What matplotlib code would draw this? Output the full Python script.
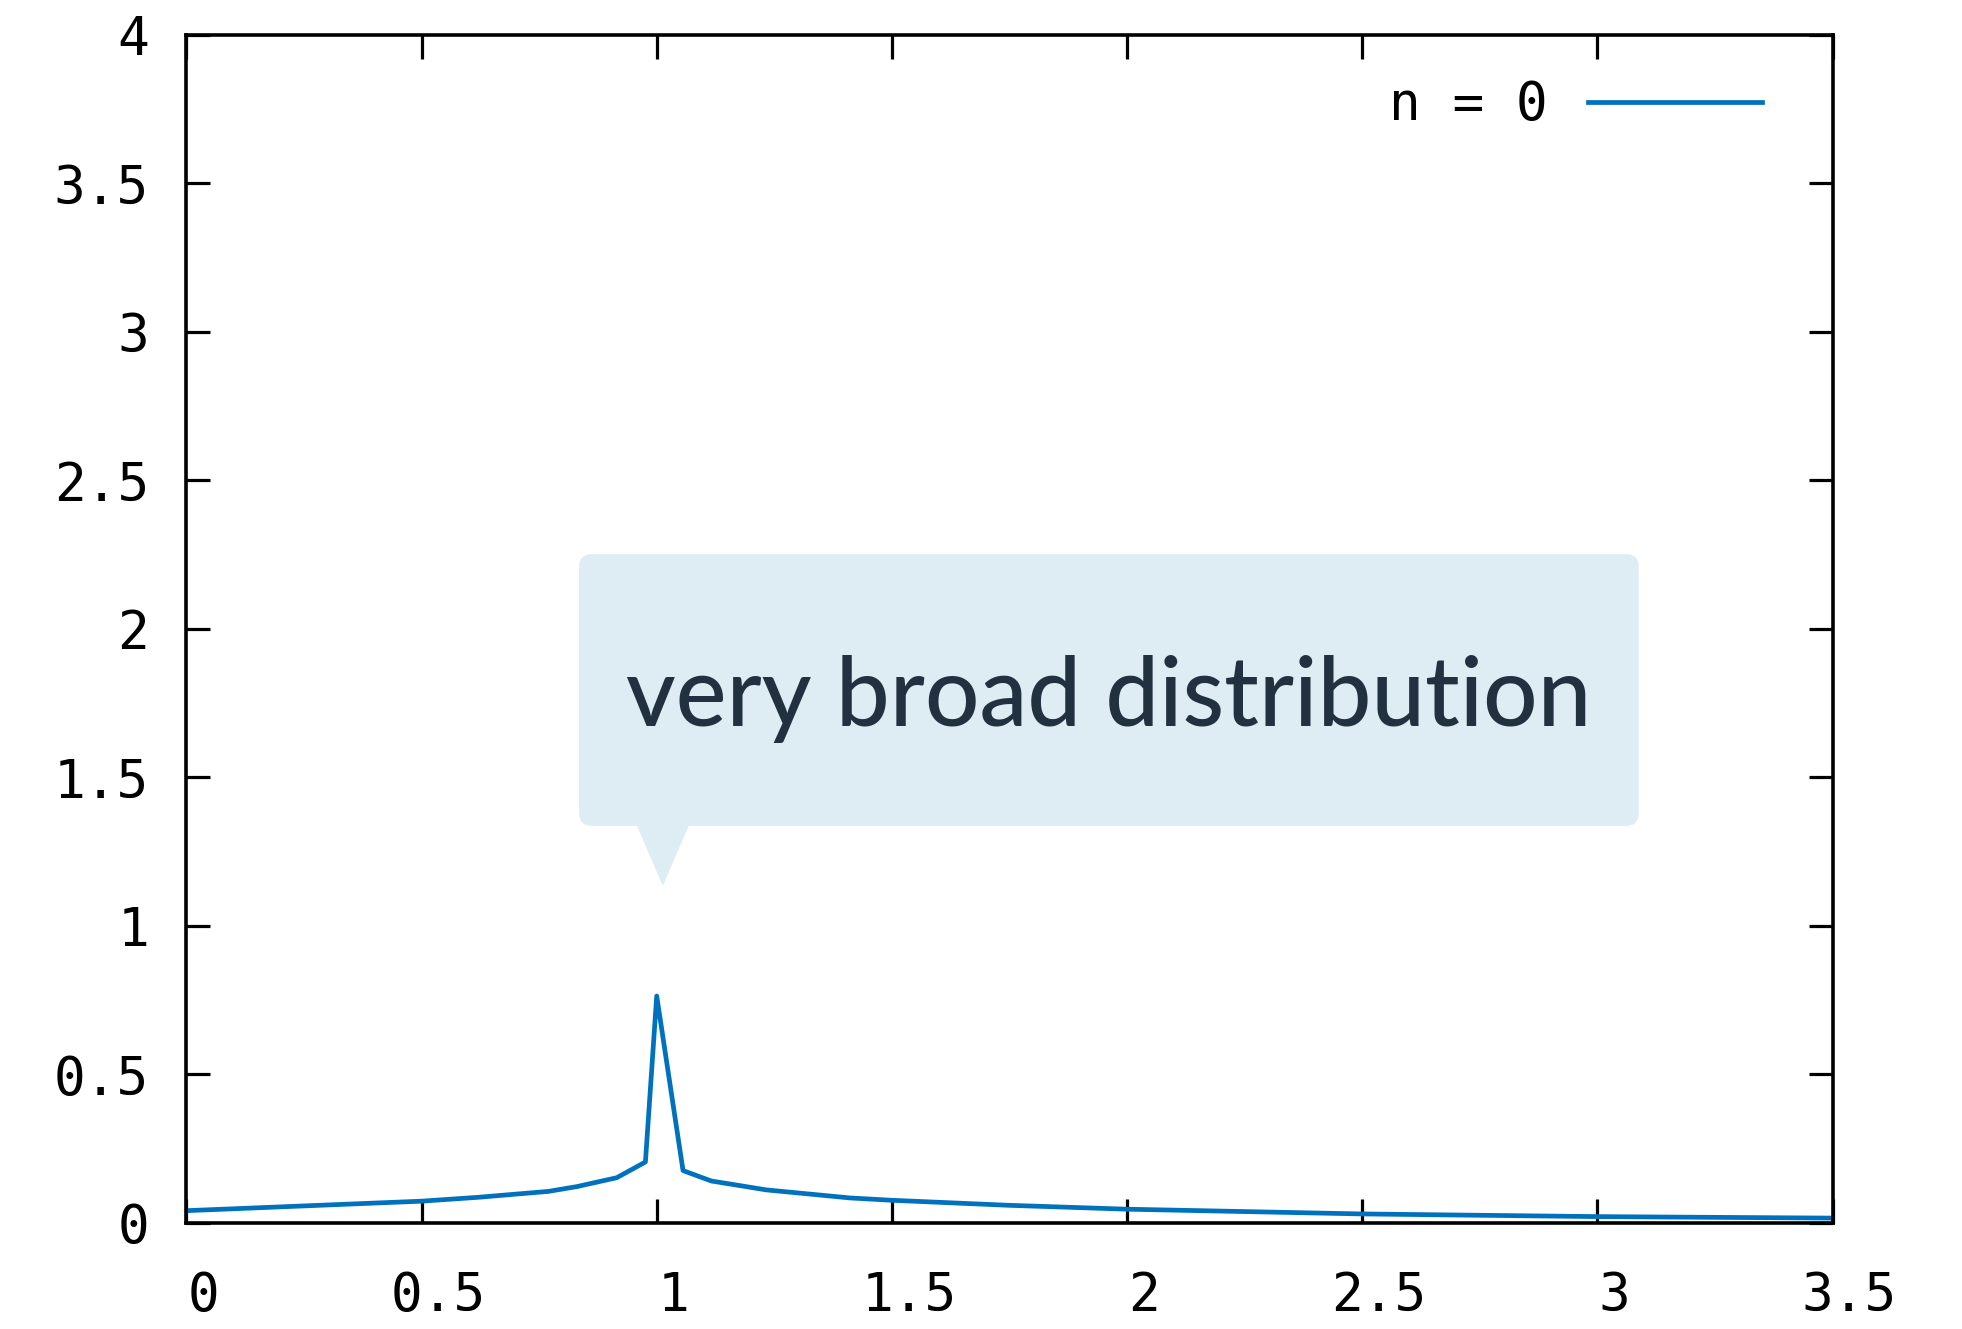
import matplotlib
matplotlib.use("Agg")
import matplotlib.pyplot as plt
import matplotlib.transforms as mtransforms
from matplotlib.patches import FancyBboxPatch, Polygon
from matplotlib.ticker import FormatStrFormatter

# values
freq = [0.0, 0.5, 0.62, 0.77, 0.83, 0.915, 0.945, 0.976, 1.0, 1.056,
        1.116, 1.233, 1.41, 1.5, 1.75, 2.0, 2.5, 3.0, 3.5]
density = [0.040, 0.072, 0.085, 0.105, 0.121, 0.151, 0.177, 0.204, 0.763, 0.175,
           0.140, 0.110, 0.083, 0.075, 0.058, 0.045, 0.029, 0.020, 0.015]
series_label = "n = 0"
callout_text = "very broad distribution"

x_ticks = [0, 0.5, 1, 1.5, 2, 2.5, 3, 3.5]
y_ticks = [0, 0.5, 1, 1.5, 2, 2.5, 3, 3.5, 4]

LINE_COLOR = "#0072bd"
BOX_COLOR = "#deedf4"
TEXT_COLOR = "#22313f"
MONO = "DejaVu Sans Mono"

fig = plt.figure(figsize=(19.62, 13.29), dpi=100)
ax = fig.add_axes([0.095, 0.0801, 0.839, 0.8936])

ax.plot(freq, density, color=LINE_COLOR, lw=3.4, label=series_label)

ax.set_xlim(0, 3.5)
ax.set_ylim(0, 4)
ax.set_xticks(x_ticks)
ax.set_yticks(y_ticks)
ax.xaxis.set_major_formatter(FormatStrFormatter("%g"))
ax.yaxis.set_major_formatter(FormatStrFormatter("%g"))

for s in ax.spines.values():
    s.set_linewidth(2.6)
ax.tick_params(direction="in", length=17, width=2.3, top=True, right=True,
               labelsize=38)
ax.tick_params(axis="x", pad=34)
ax.tick_params(axis="y", pad=27)
for lab in ax.get_xticklabels() + ax.get_yticklabels():
    lab.set_family(MONO)
# gnuplot puts the x labels a little to the right of their ticks
shift = mtransforms.ScaledTranslation(0.17, 0, fig.dpi_scale_trans)
for lab in ax.get_xticklabels():
    lab.set_transform(lab.get_transform() + shift)

leg = ax.legend(loc="center right", bbox_to_anchor=(0.957, 0.941),
                frameon=False, markerfirst=False, borderpad=0, borderaxespad=0,
                handlelength=3.3, handletextpad=0.75,
                prop={"family": MONO, "size": 38})

# speech-bubble callout
box = FancyBboxPatch((0.835, 1.336), 3.088 - 0.835, 2.251 - 1.336,
                     boxstyle="round,pad=0,rounding_size=0.027",
                     mutation_aspect=1.58, fc=BOX_COLOR, ec="none", zorder=3)
ax.add_patch(box)
ax.add_patch(Polygon([(0.957, 1.34), (1.069, 1.34), (1.013, 1.134)],
                     closed=True, fc=BOX_COLOR, ec="none", zorder=3))
ax.text(1.961, 1.673, callout_text, ha="center", va="baseline",
        fontsize=69, family="Lato", fontweight="medium",
        color=TEXT_COLOR, zorder=4)

fig.savefig("out.png", dpi=100)
